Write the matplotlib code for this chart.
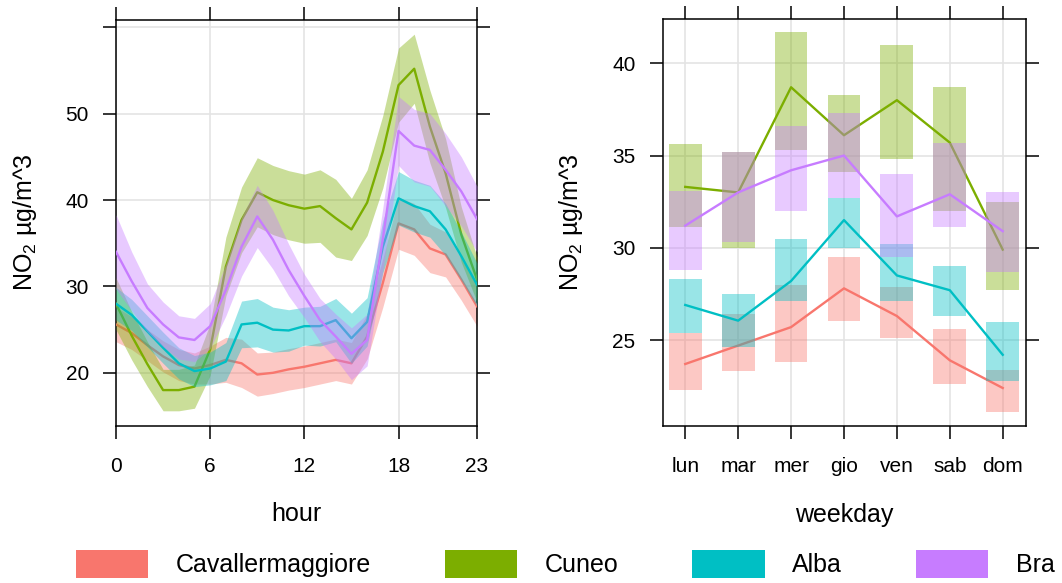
import numpy as np
import matplotlib
matplotlib.use("Agg")
import matplotlib.pyplot as plt
from matplotlib.patches import Patch

plt.rcParams['font.family'] = ['Liberation Sans', 'DejaVu Sans']
plt.rcParams['mathtext.fontset'] = 'custom'
plt.rcParams['mathtext.rm'] = 'Liberation Sans'
plt.rcParams['mathtext.it'] = 'Liberation Sans:italic'

sites = ['Cavallermaggiore', 'Cuneo', 'Alba', 'Bra']
colors = ['#F8766D', '#7CAE00', '#00BFC4', '#C77CFF']

# hourly means and half-width of the confidence band
hours = list(range(24))
cav_hour = [25.6, 24.6, 23.2, 21.9, 20.9, 20.5, 20.9, 21.5, 21.1, 19.8, 20.0, 20.4,
            20.7, 21.1, 21.5, 21.1, 24.2, 30.4, 37.3, 36.6, 34.4, 33.7, 30.8, 27.7]
cav_hour_ci = [2.0, 1.9, 1.8, 1.8, 1.8, 1.8, 2.2, 2.6, 2.8, 2.5, 2.4, 2.4,
               2.4, 2.4, 2.4, 2.4, 2.6, 2.8, 3.0, 3.0, 2.8, 2.6, 2.4, 2.3]
cun_hour = [28.0, 24.3, 21.0, 18.0, 18.0, 18.4, 22.7, 32.3, 37.7, 40.9, 40.0, 39.4,
            39.0, 39.3, 37.9, 36.6, 39.7, 45.6, 53.3, 55.2, 48.5, 43.1, 36.0, 30.8]
cun_hour_ci = [3.0, 2.8, 2.6, 2.4, 2.4, 2.5, 3.0, 3.4, 3.8, 4.0, 4.0, 4.0,
               4.0, 4.2, 4.5, 3.6, 3.8, 4.2, 4.3, 4.0, 4.2, 4.0, 3.2, 2.6]
alb_hour = [28.0, 26.7, 24.8, 22.9, 21.1, 20.2, 20.5, 21.3, 25.6, 25.8, 25.0, 24.9,
            25.4, 25.4, 26.1, 24.0, 25.9, 34.6, 40.2, 39.3, 38.7, 36.6, 33.5, 30.2]
alb_hour_ci = [1.9, 1.8, 1.8, 1.8, 1.8, 1.8, 1.9, 2.2, 2.7, 2.8, 2.6, 2.4,
               2.2, 2.3, 2.5, 2.9, 2.8, 3.0, 3.1, 3.0, 3.0, 3.0, 2.8, 2.5]
bra_hour = [34.0, 30.6, 27.5, 25.6, 24.1, 23.8, 25.4, 29.6, 34.6, 38.1, 35.4, 31.9,
            28.9, 26.1, 24.2, 22.2, 23.8, 35.5, 48.0, 46.3, 45.8, 43.5, 41.0, 37.8]
bra_hour_ci = [4.3, 3.4, 2.8, 2.6, 2.5, 2.5, 2.6, 3.0, 3.4, 3.6, 3.4, 3.0,
               2.5, 2.5, 2.6, 3.0, 3.0, 3.6, 4.0, 4.2, 4.2, 4.2, 4.0, 3.8]

# weekday means with lower / upper interval
days = ['lun', 'mar', 'mer', 'gio', 'ven', 'sab', 'dom']
cav_day = [23.7, 24.7, 25.7, 27.8, 26.3, 23.9, 22.4]
cav_day_lo = [22.3, 23.3, 23.8, 26.05, 25.1, 22.6, 21.1]
cav_day_hi = [25.4, 26.4, 28.0, 29.5, 27.9, 25.6, 23.4]
cun_day = [33.3, 33.0, 38.7, 36.1, 38.0, 35.7, 29.9]
cun_day_lo = [31.1, 30.0, 35.3, 34.1, 34.8, 32.0, 27.7]
cun_day_hi = [35.6, 35.2, 41.7, 38.3, 41.0, 38.7, 32.5]
alb_day = [26.9, 26.05, 28.2, 31.5, 28.5, 27.7, 24.2]
alb_day_lo = [25.4, 24.6, 27.1, 30.0, 27.1, 26.3, 22.8]
alb_day_hi = [28.3, 27.5, 30.5, 32.7, 30.2, 29.0, 26.0]
bra_day = [31.2, 33.0, 34.2, 35.0, 31.7, 32.9, 30.9]
bra_day_lo = [28.8, 30.3, 32.0, 32.7, 29.5, 31.1, 28.7]
bra_day_hi = [33.1, 35.2, 36.6, 37.3, 34.0, 35.7, 33.0]

hour_data = [(cav_hour, cav_hour_ci), (cun_hour, cun_hour_ci),
             (alb_hour, alb_hour_ci), (bra_hour, bra_hour_ci)]
day_data = [(cav_day, cav_day_lo, cav_day_hi), (cun_day, cun_day_lo, cun_day_hi),
            (alb_day, alb_day_lo, alb_day_hi), (bra_day, bra_day_lo, bra_day_hi)]

fig = plt.figure(figsize=(10.62, 5.83), dpi=100)
ax1 = fig.add_axes([116/1062, 1-425.5/583, 361/1062, 406/583])
ax2 = fig.add_axes([662.5/1062, 1-426/583, 363.5/1062, 407/583])

# hour panel
x = np.array(hours)
for i, (m, ci) in enumerate(hour_data):
    m = np.array(m)
    ci = np.array(ci)
    ax1.fill_between(x, m - ci, m + ci, color=colors[i], alpha=0.4, lw=0, zorder=2 + 2*i)
    ax1.plot(x, m, color=colors[i], lw=1.7, zorder=3 + 2*i)
ax1.set_xlim(0, 23)
ax1.set_ylim(13.9, 60.9)
ax1.set_xticks([0, 6, 12, 18, 23])
ax1.set_yticks([20, 30, 40, 50, 60])
ax1.set_yticklabels(['20', '30', '40', '50', ''])
ax1.set_xlabel('hour')

# weekday panel
xd = np.arange(1, 8)
for i, (m, lo, hi) in enumerate(day_data):
    lo = np.array(lo)
    hi = np.array(hi)
    ax2.bar(xd, hi - lo, bottom=lo, width=0.62, color=colors[i], alpha=0.4, lw=0, zorder=2 + 2*i)
    ax2.plot(xd, m, color=colors[i], lw=1.7, zorder=3 + 2*i)
ax2.set_xlim(0.57, 7.44)
ax2.set_ylim(20.34, 42.4)
ax2.set_xticks(xd)
ax2.set_xticklabels(days)
ax2.set_yticks([25, 30, 35, 40])
ax2.set_xlabel('weekday')

for ax in (ax1, ax2):
    ax.grid(True, color='#e4e4e4', lw=1.2, zorder=0)
    ax.set_axisbelow(True)
    ax.tick_params(direction='out', length=9.5, width=1.1, top=True, right=True,
                   labelsize=15, pad=10)
    ax.tick_params(axis='x', pad=13)
    for s in ax.spines.values():
        s.set_linewidth(1.1)
    ax.set_ylabel('NO$_2$ µg/m^3', fontsize=18)
    ax.xaxis.label.set_fontsize(18)
    ax.yaxis.set_label_coords(-0.252, 0.5)
    ax.xaxis.set_label_coords(0.5, -0.218)
    ax.xaxis.label.set_verticalalignment('center')
    ax.yaxis.label.set_verticalalignment('center')

handles = [Patch(facecolor=c, edgecolor='none') for c in colors]
fig.legend(handles, sites, loc='center', bbox_to_anchor=(565/1062, 1-564/583),
           ncol=4, frameon=False, fontsize=18, handlelength=2.9, handleheight=1.3,
           handletextpad=1.1, columnspacing=2.95, borderaxespad=0, borderpad=0)

fig.savefig('out.png', dpi=100)
